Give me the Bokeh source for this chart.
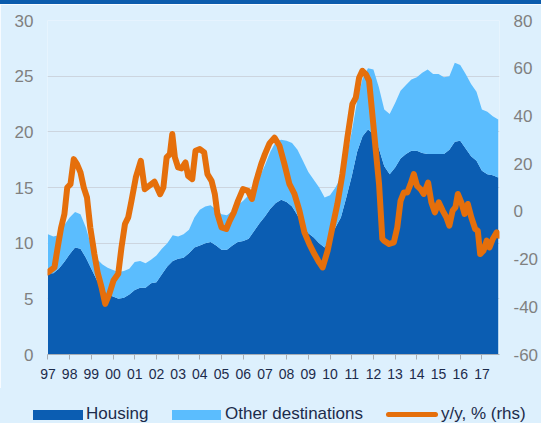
from bokeh.plotting import figure
from bokeh.models import Range1d, LinearAxis, FixedTicker, Div
from bokeh.layouts import column
from bokeh.embed import file_html
from bokeh.resources import INLINE

# Quarterly observations, 1997Q1 .. 2017Q4
quarters = [1997 + 0.25 * k for k in range(84)]

housing = [7.3, 7.3, 7.7, 8.3, 9.0, 9.6, 9.5,
           8.7, 7.7, 6.7, 5.9, 5.4, 5.2, 5.0, 5.1, 5.4, 5.8,
           6.0, 6.0, 6.4, 6.5, 7.2, 7.9, 8.4, 8.6, 8.7, 9.1,
           9.6, 9.8, 10.0, 10.1, 9.8, 9.4, 9.4, 9.8,
           10.1, 10.2, 10.4, 11.1, 11.8, 12.4, 13.1, 13.6, 13.9, 13.7,
           13.3, 12.5, 11.5, 10.9, 10.5, 10.0, 9.6, 10.4, 11.4, 12.3,
           14.1, 16.0, 18.2, 19.6, 20.2, 19.8, 18.5, 16.9,
           16.2, 16.8, 17.6, 18.0, 18.3, 18.3, 18.1, 18.0, 18.0, 18.0,
           18.0, 18.4, 19.1, 19.2, 18.5, 17.8, 17.4, 16.5, 16.2, 16.1,
           15.9]

other = [3.5, 3.3, 3.0, 3.3, 3.3, 3.2, 3.1,
         2.7, 2.0, 1.9, 2.2, 2.4, 2.4, 2.4, 2.4, 2.3, 2.5,
         2.4, 2.2, 2.1, 2.4, 2.3, 2.1, 2.3, 2.0, 2.1, 2.1,
         2.7, 3.2, 3.3, 3.3, 3.2, 3.2, 3.1, 3.1,
         3.3, 3.6, 3.9, 3.9, 4.1, 4.6, 5.1, 5.5, 5.4, 5.5,
         5.7, 5.9, 5.9, 5.5, 5.2, 5.0, 4.5, 3.9, 3.6, 3.6,
         3.4, 4.0, 4.6, 5.2, 5.5, 5.8, 5.5, 5.1,
         5.4, 5.8, 6.1, 6.2, 6.4, 6.6, 7.2, 7.6, 7.2, 7.2,
         6.9, 6.6, 7.1, 6.8, 6.7, 6.5, 6.2, 5.5, 5.6, 5.3,
         5.2]

# y/y growth, % (right-hand scale)
yy_t = [1997.00, 1997.30, 1997.45, 1997.61, 1997.76, 1997.89, 1998.04, 1998.19,
        1998.34, 1998.50, 1998.65, 1998.80, 1998.95, 1999.14, 1999.29, 1999.47,
        1999.64, 1999.83, 2000.02, 2000.24, 2000.39, 2000.55, 2000.70, 2000.85,
        2001.05, 2001.28, 2001.46, 2001.66, 2001.91, 2002.17, 2002.32, 2002.47,
        2002.62, 2002.73, 2002.85, 2003.00, 2003.16, 2003.34, 2003.46, 2003.65,
        2003.80, 2004.00, 2004.20, 2004.35, 2004.54, 2004.69, 2004.81, 2005.00,
        2005.22, 2005.38, 2005.57, 2005.76, 2005.99, 2006.22, 2006.40, 2006.60,
        2006.83, 2007.00, 2007.21, 2007.44, 2007.67, 2007.90, 2008.13, 2008.36,
        2008.59, 2008.82, 2009.05, 2009.28, 2009.50, 2009.66, 2009.89, 2010.11,
        2010.34, 2010.57, 2010.80, 2011.03, 2011.19, 2011.34, 2011.49, 2011.65,
        2011.80, 2011.95, 2012.11, 2012.26, 2012.41, 2012.49, 2012.72, 2012.94,
        2013.10, 2013.25, 2013.40, 2013.56, 2013.71, 2013.86, 2014.01, 2014.17,
        2014.32, 2014.52, 2014.67, 2014.83, 2015.01, 2015.19, 2015.36, 2015.50,
        2015.65, 2015.78, 2015.89, 2016.05, 2016.20, 2016.35, 2016.51, 2016.69,
        2016.81, 2016.92, 2017.07, 2017.22, 2017.35, 2017.50, 2017.68, 2017.79]
yy_v = [-25.6, -23.5, -15.1, -6.7, -1.1, 10.0, 11.4, 21.9,
        19.8, 16.3, 10.0, 5.8, -6.7, -17.9, -25.6, -31.8,
        -38.8, -34.6, -29.0, -26.2, -15.1, -5.3, -2.5, 4.4,
        14.2, 21.2, 9.3, 10.7, 12.4, 7.2, 10.0, 22.6,
        24.0, 32.4, 22.6, 18.4, 18.0, 20.5, 14.9, 13.5,
        25.4, 26.1, 24.7, 15.6, 12.8, 7.3, -1.1, -6.7,
        -7.4, -3.9, -0.4, 4.4, 9.3, 8.6, 5.2, 12.8,
        19.8, 24.0, 28.5, 30.9, 27.5, 19.8, 11.4, 7.3,
        0.3, -8.8, -13.7, -17.9, -21.4, -23.5, -16.5, -6.7,
        3.1, 15.6, 30.9, 44.9, 47.7, 56.0, 58.9, 57.5,
        54.7, 40.7, 25.4, 11.4, -11.5, -12.3, -13.7, -13.0,
        -6.7, 4.4, 7.9, 7.9, 11.4, 15.6, 10.7, 9.3,
        7.3, 12.1, 3.8, -0.4, 3.8, 0.3, -2.5, -6.0,
        0.3, 1.7, 7.3, 3.8, -1.1, 3.1, -2.5, -7.4,
        -8.1, -17.9, -16.5, -12.3, -15.1, -11.6, -8.8, -10.2]

year_ticks = list(range(1997, 2018))
left_ticks = [0, 5, 10, 15, 20, 25, 30]
right_ticks = [-60, -40, -20, 0, 20, 40, 60, 80]
series_names = ["Housing", "Other destinations", "y/y, % (rhs)"]

BG = "#DDF0FD"
DARK = "#0B5DB2"
LIGHT = "#5BBDFE"
ORANGE = "#E56F0B"
NAVY = "#1C2B4B"
GREY = "#808080"
FONT = "Liberation Sans"

total = [h + o for h, o in zip(housing, other)]

# ---- main chart ----
p = figure(width=541, height=384, x_range=Range1d(1996.98, 2017.81),
           y_range=Range1d(0, 30), output_backend="svg", toolbar_location=None,
           min_border_left=47, min_border_right=40, min_border_top=16,
           min_border_bottom=34, background_fill_color=BG, border_fill_color=BG)
p.extra_y_ranges = {"rhs": Range1d(-60, 80)}
p.outline_line_color = None

p.varea(x=quarters, y1=[0] * len(quarters), y2=housing, fill_color=DARK)
p.varea(x=quarters, y1=housing, y2=total, fill_color=LIGHT)
p.line(yy_t, yy_v, y_range_name="rhs", line_color=ORANGE, line_width=6,
       line_join="round", line_cap="round")

p.xgrid.grid_line_color = None
p.ygrid.ticker = FixedTicker(ticks=left_ticks)
p.ygrid.grid_line_color = "#CCD5DF"
p.ygrid.grid_line_width = 1

xa = p.xaxis[0]
xa.ticker = FixedTicker(ticks=year_ticks)
xa.major_label_overrides = {y: f"{y % 100:02d}" for y in year_ticks}
xa.axis_line_color = "#A8AEB5"
xa.major_tick_line_color = "#A8AEB5"
xa.major_tick_out = 5
xa.major_tick_in = 0
xa.minor_tick_line_color = None
xa.major_label_text_font = FONT
xa.major_label_text_font_size = "14px"
xa.major_label_text_color = NAVY
xa.major_label_standoff = 9

ya = p.yaxis[0]
ya.ticker = FixedTicker(ticks=left_ticks)
ra = LinearAxis(y_range_name="rhs", ticker=FixedTicker(ticks=right_ticks))
ra.major_label_overrides = {v: str(v) for v in right_ticks}
p.add_layout(ra, "right")
for ax in (ya, ra):
    ax.axis_line_color = None
    ax.major_tick_line_color = None
    ax.minor_tick_line_color = None
    ax.major_tick_out = 0
    ax.major_tick_in = 0
    ax.major_label_text_font = FONT
    ax.major_label_text_font_size = "17px"
    ax.major_label_text_color = GREY
    ax.major_label_standoff = 14

# ---- legend strip (HTML) ----
def swatch(left, top, w, h, color, radius=0):
    return (f'<div style="position:absolute;left:{left}px;top:{top}px;width:{w}px;'
            f'height:{h}px;background:{color};border-radius:{radius}px"></div>')

def label(left, text):
    return (f'<div style="position:absolute;left:{left}px;top:17px;line-height:18px;'
            f'white-space:nowrap">{text}</div>')

legend_html = (
    f'<div style="position:relative;width:541px;height:35px;background:{BG};'
    f'font-family:\'{FONT}\';font-size:17px;color:{NAVY}">'
    + swatch(33, 22, 50, 10, DARK) + label(86, series_names[0])
    + swatch(172, 22, 49, 10, LIGHT) + label(225, series_names[1])
    + swatch(386, 24, 52, 5, ORANGE, 3) + label(441, series_names[2])
    + '</div>'
)
legend_div = Div(text=legend_html, width=541, height=35, margin=0,
                 styles={"background-color": BG})

band = Div(text="", width=541, height=4, margin=0,
           styles={"background-color": "#0B5CAD"})
layout = column(band, p, legend_div, spacing=0)

open("out.html", "w").write(file_html(layout, INLINE))
